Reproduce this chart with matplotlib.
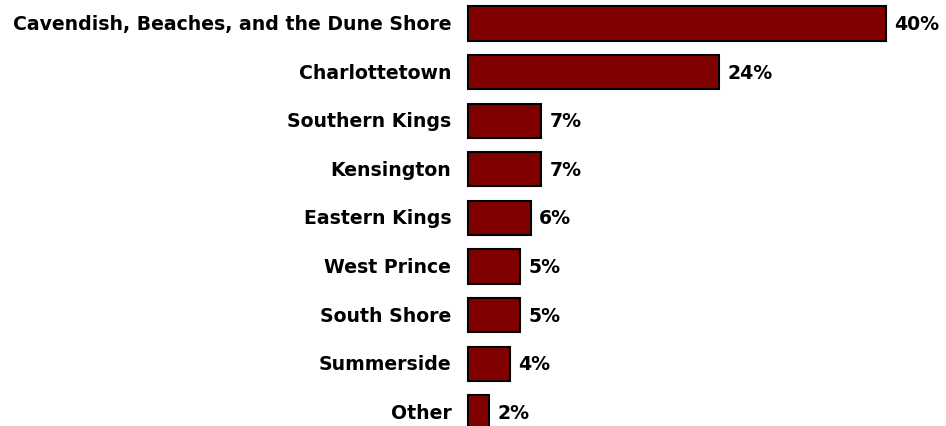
import matplotlib.pyplot as plt

# 地域と割合
regions = ["Cavendish, Beaches, and the Dune Shore", "Charlottetown", "Southern Kings",
           "Kensington", "Eastern Kings", "West Prince", "South Shore", "Summerside", "Other"]
shares = [40, 24, 7, 7, 6, 5, 5, 4, 2]

W, H = 946, 427
fig = plt.figure(figsize=(W / 100, H / 100), dpi=100)

# 軸の位置（ピクセル基準）
x0, x1 = 468, 886
top, step = 24.5 - 24.3, 48.6
bottom = top + step * len(regions)
ax = fig.add_axes([x0 / W, (H - bottom) / H, (x1 - x0) / W, step * len(regions) / H])

y = list(range(len(regions)))
bars = ax.barh(y, shares, height=0.7, color="#800000", edgecolor="black", linewidth=1.5)
for b in bars:
    b.set_clip_on(False)  # 右端の枠線が切れないように
ax.set_xlim(0, 40)
ax.set_ylim(len(regions) - 0.5, -0.5)

for i, (name, v) in enumerate(zip(regions, shares)):
    ax.text(-1.6, i, name, ha="right", va="center", fontsize=13.6, fontweight="bold",
            family="DejaVu Sans")
    ax.text(v + 0.8, i, f"{v}%", ha="left", va="center", fontsize=13.6, fontweight="bold",
            family="DejaVu Sans", clip_on=False)

ax.axis("off")
fig.savefig("out.png", dpi=100)
